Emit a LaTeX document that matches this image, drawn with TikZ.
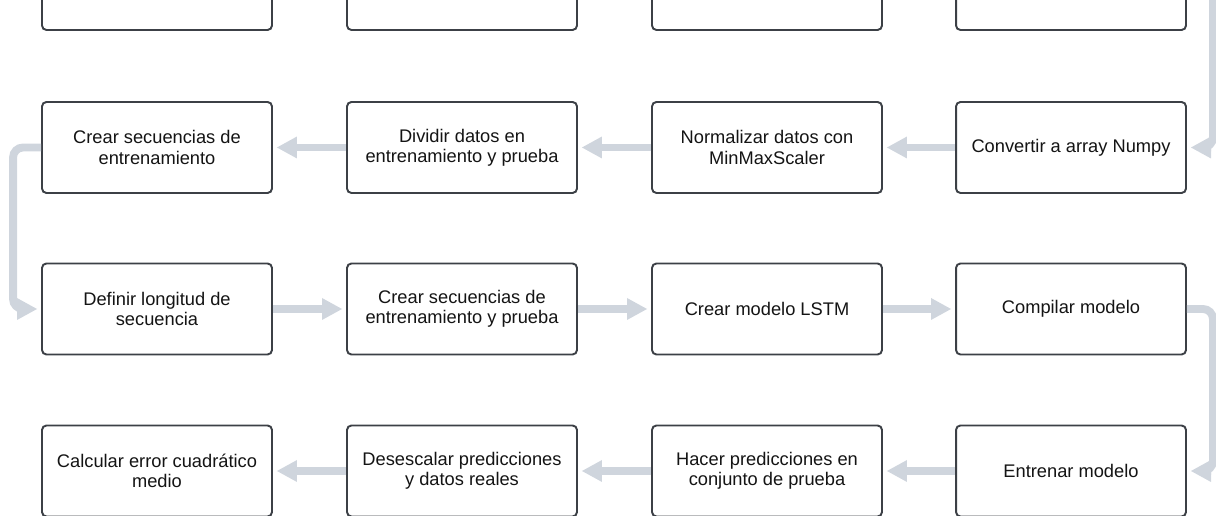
\documentclass[tikz,border=0pt]{standalone}
\usepackage{fontspec}
\setmainfont{Liberation Sans}
\usetikzlibrary{arrows.meta}
\definecolor{boxline}{RGB}{60,64,70}
\definecolor{flowgray}{RGB}{207,213,221}
\definecolor{boxtext}{RGB}{20,20,20}

\begin{document}
\begin{tikzpicture}[x=0.02cm,y=0.02cm,
	box/.style={draw=boxline,line width=1.1pt,rounded corners=2.5pt,fill=white,
		minimum width=4.6cm,minimum height=1.82cm,align=center,text=boxtext,
		font=\fontsize{10.4}{11.6}\selectfont},
	flow/.style={color=flowgray,line width=4.5pt,
		-{Triangle[length=0.4cm,width=0.44cm,fill=flowgray,line width=0pt]},shorten >=2.3pt}]
	\useasboundingbox (0,0) rectangle (1216,516);
	\clip (0,0) rectangle (1216,516);

	        \node[box] at (157,531.5)  (top1) {};
	        \node[box] at (462,531.5)  (top2) {};
	        \node[box] at (767,531.5)  (top3) {};
	        \node[box] at (1071,531.5) (top4) {};

	        \node[box] at (1071,368.5) (conv) {Convertir a array Numpy};
	        \node[box] at (767,368.5)  (norm) {Normalizar datos con\\MinMaxScaler};
	        \node[box] at (462,368.5)  (split) {Dividir datos en\\entrenamiento y prueba};
	        \node[box] at (157,368.5)  (seqtrain) {Crear secuencias de\\entrenamiento};

	        \node[box] at (157,207)  (len) {Definir longitud de\\secuencia};
	        \node[box] at (462,207)  (seqs) {Crear secuencias de\\entrenamiento y prueba};
	        \node[box] at (767,207)  (lstm) {Crear modelo LSTM};
	        \node[box] at (1071,207) (comp) {Compilar modelo};

	        \node[box] at (1071,45) (train) {Entrenar modelo};
	        \node[box] at (767,45)  (pred) {Hacer predicciones en\\conjunto de prueba};
	        \node[box] at (462,45)  (unscale) {Desescalar predicciones\\y datos reales};
	        \node[box] at (157,45)  (mse) {Calcular error cuadrático\\medio};

			\path[flow] (conv) edge (norm)
					(norm) edge (split)
					(split) edge (seqtrain)
					(len) edge (seqs)
					(seqs) edge (lstm)
					(lstm) edge (comp)
					(train) edge (pred)
					(pred) edge (unscale)
					(unscale) edge (mse);
		\draw[flow,rounded corners=0.2cm] (top4.east) -- ++(26,0) |- (conv.east);
		\draw[flow,rounded corners=0.2cm] (seqtrain.west) -- ++(-28,0) |- (len.west);
		\draw[flow,rounded corners=0.2cm] (comp.east) -- ++(26,0) |- (train.east);
		\end{tikzpicture}
\end{document}
